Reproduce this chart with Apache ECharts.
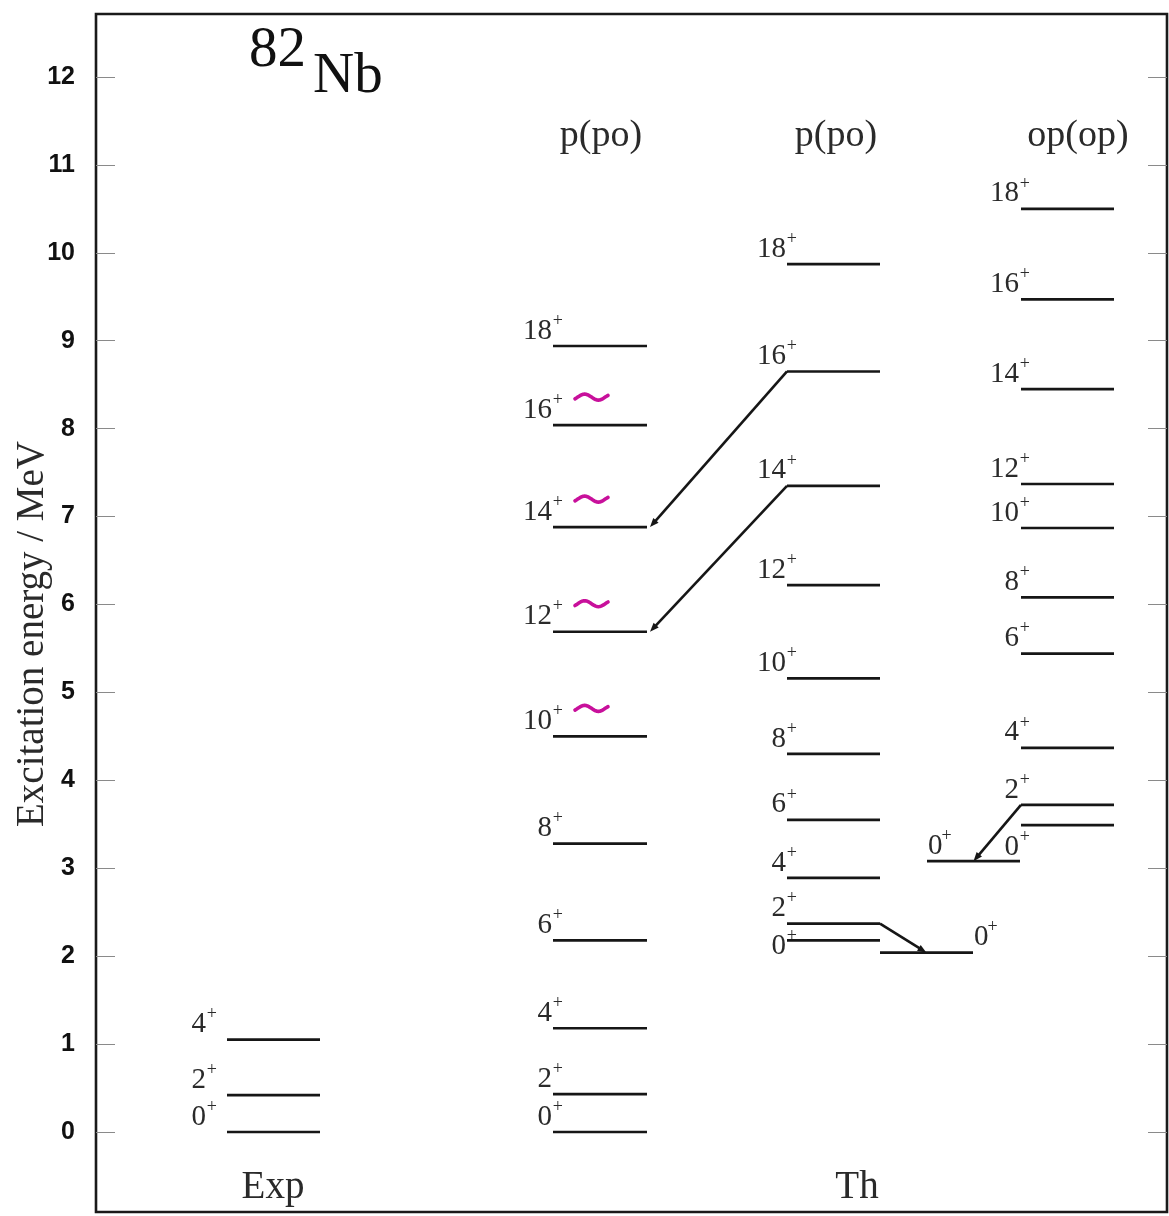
<!DOCTYPE html>
<html>
<head>
<meta charset="utf-8">
<script src="https://cdn.jsdelivr.net/npm/echarts@6/dist/echarts.min.js"></script>
<style>
html,body{margin:0;padding:0;background:#fff;}
#chart{width:1169px;height:1216px;}
</style>
</head>
<body>
<div id="chart"></div>
<script>
// ---------------- DATA ----------------
const yTicks = [0, 1, 2, 3, 4, 5, 6, 7, 8, 9, 10, 11, 12];

const expSpins = ['0', '2', '4'];
const expEnergies = [0, 0.42, 1.05];

const th1Spins = ['0', '2', '4', '6', '8', '10', '12', '14', '16', '18'];
const th1Energies = [0, 0.43, 1.18, 2.18, 3.28, 4.50, 5.69, 6.88, 8.04, 8.94];

const th2Spins = ['0', '2', '4', '6', '8', '10', '12', '14', '16', '18'];
const th2Energies = [2.18, 2.37, 2.89, 3.55, 4.30, 5.16, 6.22, 7.35, 8.65, 9.87];

const th3Spins = ['0', '2', '4', '6', '8', '10', '12', '14', '16', '18'];
const th3Energies = [3.49, 3.72, 4.37, 5.44, 6.08, 6.87, 7.37, 8.45, 9.47, 10.50];

const bandASpins = ['0'];
const bandAEnergies = [2.04];

const bandBSpins = ['0'];
const bandBEnergies = [3.08];

const parity = '+';
const tildeSpinsTh1 = ['10', '12', '14', '16'];

// transitions: [fromColumn, fromSpin, toColumn, toSpin]
const transitions = [
  ['th2', '16', 'th1', '14'],
  ['th2', '14', 'th1', '12'],
  ['th2', '2', 'bandA', '0'],
  ['th3', '2', 'bandB', '0']
];

const nucleusMass = '82';
const nucleusSymbol = 'Nb';
const groupTitles = ['Exp', 'Th'];
const columnHeaders = ['p(po)', 'p(po)', 'op(op)'];
const yAxisTitle = 'Excitation energy / MeV';

// ---------------- LAYOUT (x in axis units = px from frame) ----------------
const columns = {
  exp:   { x0: 131, x1: 224, dx: -10, side: 'left',  spins: expSpins,   energies: expEnergies },
  th1:   { x0: 457, x1: 551, dx: 10,  side: 'left',  spins: th1Spins,   energies: th1Energies },
  th2:   { x0: 691, x1: 784, dx: 10,  side: 'left',  spins: th2Spins,   energies: th2Energies },
  th3:   { x0: 925, x1: 1018, dx: 9,  side: 'left',  spins: th3Spins,   energies: th3Energies },
  bandA: { x0: 784, x1: 877, dx: 1,   side: 'right', spins: bandASpins, energies: bandAEnergies },
  bandB: { x0: 831, x1: 924, dx: 1,   side: 'above', spins: bandBSpins, energies: bandBEnergies }
};
const labelShift = { 'th2:0': 21, 'th3:0': 37 };
const arrowAnchors = [
  ['left', 'right'],
  ['left', 'right'],
  ['right', 'mid'],
  ['left', 'mid']
];

const SERIF = '"Liberation Serif","Times New Roman",serif';
const SANS = '"Liberation Sans",Arial,sans-serif';
const LINE_COLOR = '#161616';
const TEXT_COLOR = '#2a2a2a';
const TILDE_COLOR = '#c8109b';

// ---------------- BUILD ----------------
const levelData = [];
const levelInfo = [];
Object.keys(columns).forEach(function (key) {
  const c = columns[key];
  c.spins.forEach(function (s, i) {
    levelData.push([c.x0, c.x1, c.energies[i]]);
    levelInfo.push({
      spin: s,
      dx: c.dx,
      side: c.side,
      shift: labelShift[key + ':' + s] || 0,
      tilde: key === 'th1' && tildeSpinsTh1.indexOf(s) >= 0
    });
  });
});

function levelE(col, spin) {
  const c = columns[col];
  return c.energies[c.spins.indexOf(spin)];
}
function anchorX(col, a) {
  const c = columns[col];
  if (a === 'left') return c.x0;
  if (a === 'right') return c.x1 + 3;
  return (c.x0 + c.x1) / 2;
}
const arrowData = transitions.map(function (t, i) {
  const a = arrowAnchors[i];
  const fromX = a[0] === 'right' ? columns[t[0]].x1 : columns[t[0]].x0;
  return [fromX, levelE(t[0], t[1]), anchorX(t[2], a[1]), levelE(t[2], t[3])];
});

function renderLevel(params, api) {
  const info = levelInfo[params.dataIndex];
  const E = api.value(2);
  const p0 = api.coord([api.value(0), E]);
  const p1 = api.coord([api.value(1), E]);
  const ly = p0[1];
  const children = [{
    type: 'line',
    shape: { x1: p0[0], y1: ly, x2: p1[0], y2: ly },
    style: { stroke: LINE_COLOR, lineWidth: 2.7 }
  }];
  const numSize = 29, plusSize = 18;
  const dw = 0.5 * numSize * info.spin.length;
  let numX, numAlign, plusX, plusAlign;
  if (info.side === 'left') {
    const xr = p0[0] + info.dx;
    plusX = xr; plusAlign = 'right';
    numX = xr - 11; numAlign = 'right';
  } else {
    const xl = (info.side === 'right' ? p1[0] : p0[0]) + info.dx;
    numX = xl; numAlign = 'left';
    plusX = xl + dw - 1; plusAlign = 'left';
  }
  children.push({
    type: 'text',
    style: {
      text: info.spin, x: numX, y: ly - 15 + info.shift,
      fontFamily: SERIF, fontSize: numSize, fill: TEXT_COLOR,
      align: numAlign, verticalAlign: 'middle'
    }
  });
  children.push({
    type: 'text',
    style: {
      text: parity, x: plusX, y: ly - 25 + info.shift,
      fontFamily: SERIF, fontSize: plusSize, fill: TEXT_COLOR,
      align: plusAlign, verticalAlign: 'middle'
    }
  });
  if (info.tilde) {
    const pts = [];
    const tx0 = p0[0] + 22, tw = 33, amp = 3, cy = ly - 28;
    for (let k = 0; k <= 24; k++) {
      const u = k / 24;
      const t = -0.1 + u * 1.2;
      pts.push([tx0 + u * tw, cy - amp * Math.sin(2 * Math.PI * t)]);
    }
    children.push({
      type: 'polyline',
      shape: { points: pts },
      style: { stroke: TILDE_COLOR, lineWidth: 3.6, fill: null, lineCap: 'round', lineJoin: 'round' }
    });
  }
  return { type: 'group', children: children };
}

function renderArrow(params, api) {
  const s = api.coord([api.value(0), api.value(1)]);
  const e = api.coord([api.value(2), api.value(3)]);
  const dxv = e[0] - s[0], dyv = e[1] - s[1];
  const len = Math.sqrt(dxv * dxv + dyv * dyv);
  const ux = dxv / len, uy = dyv / len;
  const hl = 9, hw = 3.5;
  const bx = e[0] - ux * hl, by = e[1] - uy * hl;
  return {
    type: 'group',
    children: [
      {
        type: 'line',
        shape: { x1: s[0], y1: s[1], x2: bx + ux * 2, y2: by + uy * 2 },
        style: { stroke: LINE_COLOR, lineWidth: 2.6 }
      },
      {
        type: 'polygon',
        shape: { points: [[e[0], e[1]], [bx - uy * hw, by + ux * hw], [bx + uy * hw, by - ux * hw]] },
        style: { fill: LINE_COLOR }
      }
    ]
  };
}

const chart = echarts.init(document.getElementById('chart'), null, { renderer: 'canvas' });

const yMin = -0.91, yMax = 12.716;

chart.setOption({
  backgroundColor: '#ffffff',
  animation: false,
  grid: {
    left: 96, right: 2, top: 14, bottom: 4,
    show: true, borderColor: '#1a1a1a', borderWidth: 2.6, backgroundColor: 'transparent'
  },
  xAxis: {
    type: 'value', min: 0, max: 1071,
    show: false
  },
  yAxis: [
    {
      type: 'value', min: yMin, max: yMax, position: 'left',
      axisLine: { show: false },
      splitLine: { show: false },
      axisTick: { show: true, inside: true, length: 19, customValues: yTicks, lineStyle: { color: '#8a8a8a', width: 1 } },
      axisLabel: {
        customValues: yTicks, margin: 21,
        fontFamily: SANS, fontWeight: 'bold', fontSize: 25, color: '#111'
      }
    },
    {
      type: 'value', min: yMin, max: yMax, position: 'right',
      axisLine: { show: false },
      splitLine: { show: false },
      axisTick: { show: true, inside: true, length: 19, customValues: yTicks, lineStyle: { color: '#8a8a8a', width: 1 } },
      axisLabel: { show: false }
    }
  ],
  graphic: [
    { type: 'text', x: 249, y: 51, style: { text: nucleusMass, fontFamily: SERIF, fontSize: 57, fill: '#111', align: 'left', verticalAlign: 'middle' } },
    { type: 'text', x: 313, y: 77, style: { text: nucleusSymbol, fontFamily: SERIF, fontSize: 57, fill: '#111', align: 'left', verticalAlign: 'middle' } },
    { type: 'text', x: 601, y: 136, style: { text: columnHeaders[0], fontFamily: SERIF, fontSize: 38, fill: TEXT_COLOR, align: 'center', verticalAlign: 'middle' } },
    { type: 'text', x: 836, y: 136, style: { text: columnHeaders[1], fontFamily: SERIF, fontSize: 38, fill: TEXT_COLOR, align: 'center', verticalAlign: 'middle' } },
    { type: 'text', x: 1078, y: 136, style: { text: columnHeaders[2], fontFamily: SERIF, fontSize: 38, fill: TEXT_COLOR, align: 'center', verticalAlign: 'middle' } },
    { type: 'text', x: 273, y: 1188, style: { text: groupTitles[0], fontFamily: SERIF, fontSize: 39, fill: TEXT_COLOR, align: 'center', verticalAlign: 'middle' } },
    { type: 'text', x: 857, y: 1188, style: { text: groupTitles[1], fontFamily: SERIF, fontSize: 39, fill: TEXT_COLOR, align: 'center', verticalAlign: 'middle' } },
    { type: 'text', x: 33, y: 634, rotation: Math.PI / 2, style: { text: yAxisTitle, fontFamily: SERIF, fontSize: 39, fill: TEXT_COLOR, align: 'center', verticalAlign: 'middle' } }
  ],
  series: [
    {
      type: 'custom',
      name: 'levels',
      renderItem: renderLevel,
      encode: { x: [0, 1], y: 2 },
      data: levelData,
      clip: false,
      silent: true
    },
    {
      type: 'custom',
      name: 'transitions',
      renderItem: renderArrow,
      encode: { x: [0, 2], y: [1, 3] },
      data: arrowData,
      clip: false,
      silent: true
    }
  ]
});
</script>
</body>
</html>
